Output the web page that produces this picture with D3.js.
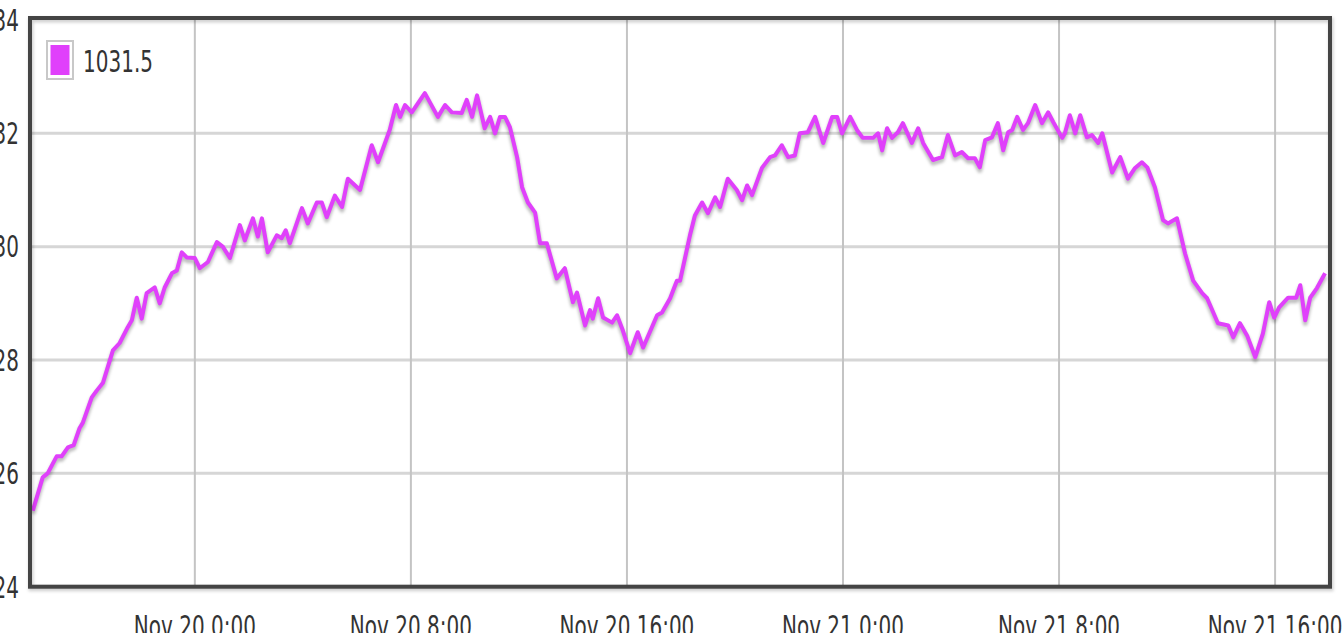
<!DOCTYPE html>
<html><head><meta charset="utf-8">
<script src="https://cdn.jsdelivr.net/npm/d3@7"></script>
<style>html,body{margin:0;padding:0;background:#fff;overflow:hidden}</style>
</head><body>
<svg id="chart" width="1342" height="633"></svg>
<script>
// Data: minutes relative to Nov 20 0:00, pressure values
const baseTime = "2013-11-20T00:00:00";
const seriesName = "1031.5";
const minutes = [-360,-338,-327,-307,-296,-282,-269,-256,-249,-229,-218,-204,-182,-167,-149,-140,-129,-118,-107,-89,-78,-67,-51,-40,-29,-18,0,11,29,49,62,78,100,111,129,140,149,162,182,193,202,211,238,251,271,282,293,311,327,340,367,393,407,433,447,456,467,482,511,540,556,571,593,604,616,627,644,656,667,678,689,700,716,727,740,756,767,782,804,822,840,849,867,878,884,896,907,927,938,951,967,984,996,1027,1038,1056,1071,1078,1100,1111,1127,1140,1156,1167,1184,1204,1216,1227,1238,1260,1278,1289,1304,1318,1333,1344,1362,1378,1396,1416,1427,1438,1456,1471,1484,1507,1518,1527,1538,1549,1562,1573,1593,1607,1618,1640,1660,1673,1689,1704,1718,1733,1744,1756,1771,1784,1796,1807,1816,1827,1840,1851,1867,1882,1896,1907,1927,1933,1944,1956,1967,1982,1993,2007,2016,2038,2056,2073,2089,2104,2116,2133,2151,2162,2182,2200,2218,2238,2249,2273,2296,2307,2322,2338,2356,2373,2387,2398,2409,2429,2447,2456,2467,2478,2493,2511];
const values = [1025.34,1025.93,1026.0,1026.3,1026.3,1026.46,1026.5,1026.8,1026.89,1027.34,1027.46,1027.6,1028.17,1028.3,1028.58,1028.7,1029.1,1028.73,1029.18,1029.28,1029.0,1029.28,1029.53,1029.58,1029.9,1029.81,1029.8,1029.62,1029.73,1030.08,1030.0,1029.8,1030.38,1030.11,1030.5,1030.18,1030.5,1029.9,1030.2,1030.15,1030.29,1030.06,1030.68,1030.41,1030.78,1030.78,1030.52,1030.9,1030.7,1031.2,1031.0,1031.79,1031.49,1032.06,1032.5,1032.29,1032.5,1032.37,1032.71,1032.29,1032.5,1032.37,1032.36,1032.59,1032.29,1032.67,1032.09,1032.29,1032.0,1032.29,1032.29,1032.11,1031.58,1031.05,1030.78,1030.6,1030.06,1030.06,1029.44,1029.62,1029.02,1029.19,1028.61,1028.88,1028.73,1029.09,1028.75,1028.66,1028.79,1028.52,1028.12,1028.49,1028.22,1028.79,1028.84,1029.09,1029.4,1029.4,1030.2,1030.55,1030.78,1030.59,1030.87,1030.7,1031.2,1031.0,1030.82,1031.08,1030.91,1031.39,1031.58,1031.61,1031.79,1031.58,1031.61,1032.0,1032.02,1032.29,1031.83,1032.29,1032.29,1032.0,1032.29,1032.06,1031.92,1031.92,1032.0,1031.7,1032.09,1031.92,1032.02,1032.18,1031.83,1032.09,1031.83,1031.53,1031.58,1031.97,1031.61,1031.67,1031.56,1031.56,1031.4,1031.88,1031.93,1032.18,1031.7,1032.02,1032.06,1032.29,1032.06,1032.18,1032.5,1032.18,1032.37,1032.2,1031.92,1032.0,1032.32,1032.0,1032.32,1031.93,1031.97,1031.83,1032.0,1031.31,1031.58,1031.2,1031.39,1031.49,1031.4,1031.05,1030.47,1030.41,1030.5,1029.88,1029.4,1029.18,1029.09,1028.65,1028.61,1028.4,1028.65,1028.43,1028.05,1028.47,1029.02,1028.75,1028.93,1029.1,1029.1,1029.32,1028.7,1029.1,1029.27,1029.53];
const yTicks = [1024,1026,1028,1030,1032,1034];
const xTickLabels = ["Nov 20 0:00","Nov 20 8:00","Nov 20 16:00","Nov 21 0:00","Nov 21 8:00","Nov 21 16:00"];
const xTickMinutes = [0,480,960,1440,1920,2400];
const xDomainMinutes = [-364,2522];
const yDomain = [1024,1034];

const base = new Date(baseTime).getTime();
const toDate = m => new Date(base + m*60000);
const data = minutes.map((m,i)=>({t:toDate(m), v:values[i]}));

const L=31, R=1330, T=20, B=586.7;
const x = d3.scaleTime().domain(xDomainMinutes.map(toDate)).range([L,R]);
const y = d3.scaleLinear().domain(yDomain).range([B,T]);

const svg = d3.select("#chart");
const defs = svg.append("defs");
const f = defs.append("filter").attr("id","blur").attr("filterUnits","userSpaceOnUse")
  .attr("x",0).attr("y",0).attr("width",1342).attr("height",633);
f.append("feGaussianBlur").attr("stdDeviation",1.6);
const f2 = defs.append("filter").attr("id","soft").attr("filterUnits","userSpaceOnUse")
  .attr("x",0).attr("y",0).attr("width",1342).attr("height",633);
f2.append("feGaussianBlur").attr("stdDeviation",0.6);

// grid
const grid = svg.append("g");
grid.selectAll("line.h").data(yTicks.slice(1,-1)).join("line").attr("class","h")
  .attr("x1",L).attr("x2",R).attr("y1",d=>y(d)).attr("y2",d=>y(d))
  .attr("stroke","#d6d6d6").attr("stroke-width",3).attr("filter","url(#soft)");
grid.selectAll("line.v").data(xTickMinutes).join("line").attr("class","v")
  .attr("x1",d=>x(toDate(d))).attr("x2",d=>x(toDate(d))).attr("y1",T).attr("y2",B)
  .attr("stroke","#c4c4c4").attr("stroke-width",2).attr("filter","url(#soft)");

// line
const line = d3.line().x(d=>x(d.t)).y(d=>y(d.v)).curve(d3.curveLinear);
svg.append("path").datum(data).attr("d",line).attr("fill","none")
  .attr("stroke","rgba(0,0,0,0.25)").attr("stroke-width",5).attr("stroke-linejoin","round")
  .attr("transform","translate(0,3)").attr("filter","url(#blur)");
svg.append("path").datum(data).attr("d",line).attr("fill","none")
  .attr("stroke","#e040fb").attr("stroke-width",4).attr("stroke-linejoin","round").attr("filter","url(#soft)");

// frame
svg.append("rect").attr("x",L-1).attr("y",T-2).attr("width",R-L+1).attr("height",B-T+2)
  .attr("fill","none").attr("stroke","rgba(0,0,0,0.18)").attr("stroke-width",5).attr("transform","translate(1,2)").attr("filter","url(#blur)");
svg.append("rect").attr("x",L-1).attr("y",T-2).attr("width",R-L+1).attr("height",B-T+2)
  .attr("fill","none").attr("stroke","#444").attr("stroke-width",4);

// axes text
const font = "DejaVu Sans, Verdana, sans-serif";
const yAxis = svg.append("g");
yAxis.selectAll("text").data(yTicks).join("text")
  .attr("transform",d=>`translate(19,${y(d)}) scale(1,1.5)`)
  .attr("text-anchor","end").attr("dy","0.36em")
  .attr("font-family",font).attr("font-size",20).attr("fill","#333")
  .text(d=>d3.format("d")(d));
const xAxis = svg.append("g");
xAxis.selectAll("text").data(xTickMinutes).join("text")
  .attr("transform",d=>`translate(${x(toDate(d))},637) scale(1,1.5)`)
  .attr("text-anchor","middle")
  .attr("font-family",font).attr("font-size",20).attr("fill","#333")
  .text((d,i)=>xTickLabels[i]);

// legend
const lg = svg.append("g");
lg.append("rect").attr("x",47).attr("y",41).attr("width",26).attr("height",38)
  .attr("fill","#fff").attr("stroke","#c8c8c8").attr("stroke-width",2);
lg.append("rect").attr("x",50.5).attr("y",45).attr("width",19).attr("height",30).attr("fill","#e040fb");
lg.append("text").attr("transform","translate(83,72) scale(1,1.5)")
  .attr("font-family",font).attr("font-size",20).attr("fill","#333").text(seriesName);
</script>
</body></html>
